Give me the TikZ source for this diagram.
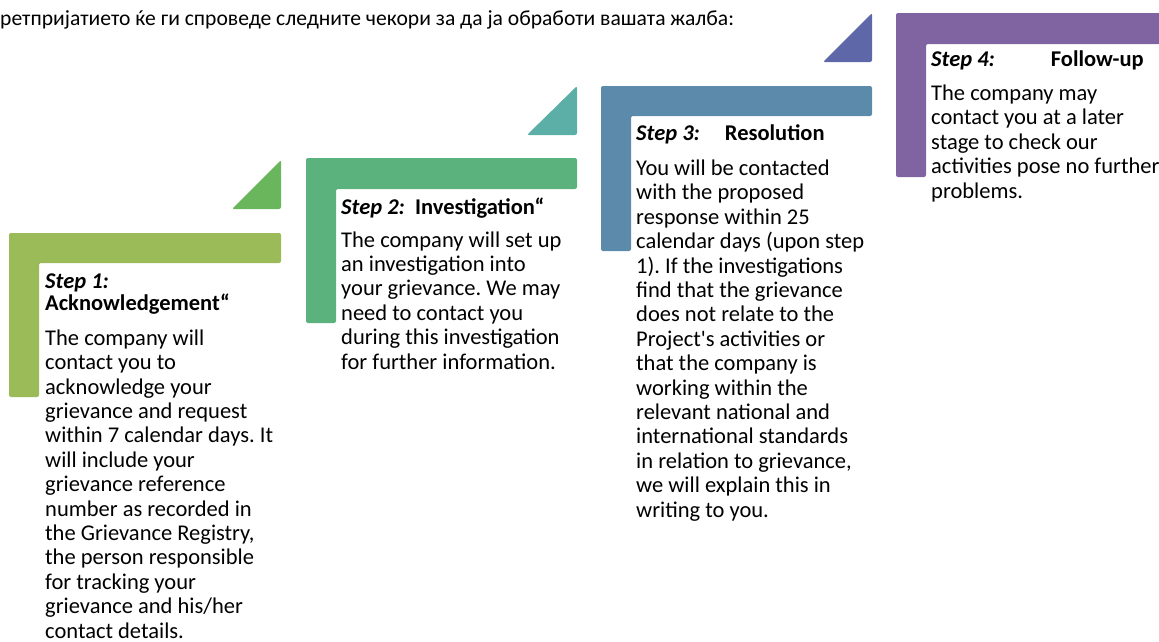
\documentclass[tikz,border=0pt]{standalone}
\usepackage{fontspec}
\setmainfont{Carlito}
\usepackage{tikz}
\frenchspacing

\definecolor{stepa}{HTML}{9BBB59}
\definecolor{tria}{HTML}{69B65C}
\definecolor{stepb}{HTML}{5CB27D}
\definecolor{trib}{HTML}{5CAFA6}
\definecolor{stepc}{HTML}{5B8AAA}
\definecolor{tric}{HTML}{5E68A8}
\definecolor{stepd}{HTML}{8064A2}

\begin{document}
\begin{tikzpicture}[x = 1pt, y = -1pt,
				bar/.style = {rounded corners = 2pt},
				head/.style = {anchor = base west, inner sep = 0pt, align = left,
				font = \fontsize{22.5}{22}\selectfont},
				body/.style = {anchor = base west, inner sep = 0pt, align = left,
				font = \fontsize{22.5}{24.4}\selectfont}]

				\useasboundingbox (0,0) rectangle (1159,641);

				% base west sits on the last line of a node
				\node [anchor = base west, inner sep = 0pt, font = \fontsize{21.6}{24}\selectfont]
				(intro) at (0,25) {ретпријатието ќе ги спроведе следните чекори за да ја обработи вашата жалба:};

				% step 1
				\fill [bar, stepa] (9,233) -- (281,233) -- (281,263) -- (39,263) -- (39,397) -- (9,397) -- cycle;
				\fill [bar, tria] (232,209) -- (281,160) -- (281,209) -- cycle;
				\node [head] (h_1) at (45,310) {\textbf{\textit{Step 1:}}\\\textbf{Acknowledgement“}};
				\node [body] (b_1) at (45,638) {The company will\\contact you to\\acknowledge your\\grievance and request\\within 7 calendar days. It\\will include your\\grievance reference\\number as recorded in\\the Grievance Registry,\\the person responsible\\for tracking your\\grievance and his/her\\contact details.};

				% step 2
				\fill [bar, stepb] (306,158) -- (577,158) -- (577,189) -- (336,189) -- (336,323) -- (306,323) -- cycle;
				\fill [bar, trib] (527,135) -- (577,86) -- (577,135) -- cycle;
				\node [head] (h_2) at (341,214) {\textbf{\textit{Step 2:}}\ \ \textbf{Investigation“}};
				\node [body] (b_2) at (341,369) {The company will set up\\an investigation into\\your grievance. We may\\need to contact you\\during this investigation\\for further information.};

				% step 3
				\fill [bar, stepc] (601,86) -- (872,86) -- (872,116) -- (631,116) -- (631,251) -- (601,251) -- cycle;
				\fill [bar, tric] (823,62) -- (872,13) -- (872,62) -- cycle;
				\node [head] (h_3) at (636,140) {\textbf{\textit{Step 3:}}\hspace{25pt}\textbf{Resolution}};
				\node [body] (b_3) at (636,517) {You will be contacted\\with the proposed\\response within 25\\calendar days (upon step\\1). If the investigations\\find that the grievance\\does not relate to the\\Project\textquotesingle s activities or\\that the company is\\working within the\\relevant national and\\international standards\\in relation to grievance,\\we will explain this in\\writing to you.};

				% step 4
				\fill [bar, stepd] (896,13) -- (1170,13) -- (1170,44) -- (926,44) -- (926,177) -- (896,177) -- cycle;
				\node [head] (h_4) at (931,66) {\textbf{\textit{Step 4:}}\hspace{56pt}\textbf{Follow-up}};
				\node [body] (b_4) at (931,198) {The company may\\contact you at a later\\stage to check our\\activities pose no further\\problems.};
\end{tikzpicture}
\end{document}
